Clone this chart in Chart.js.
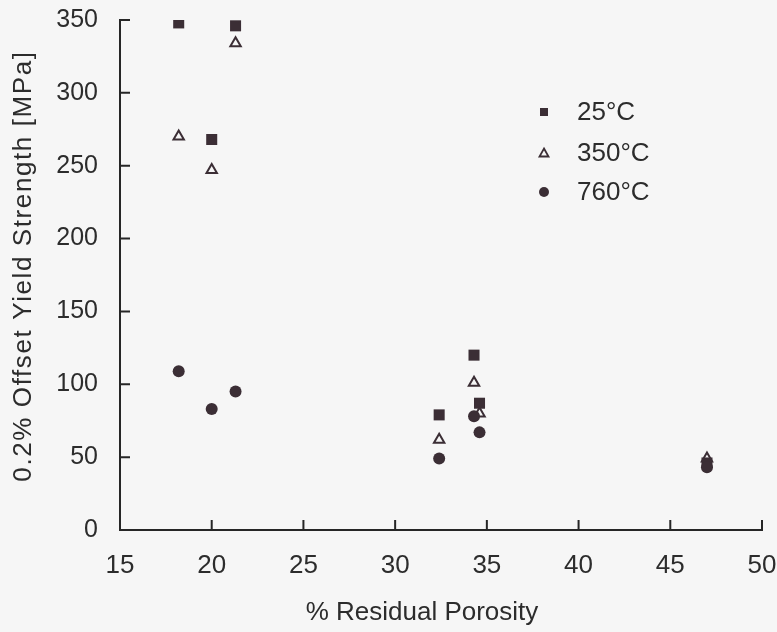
<!DOCTYPE html>
<html>
<head>
<meta charset="utf-8">
<script src="https://cdn.jsdelivr.net/npm/chart.js@4/dist/chart.umd.min.js"></script>
<style>
  body { margin: 0; background: #f6f6f6; }
  #wrap { width: 777px; height: 632px; }
</style>
</head>
<body>
<div id="wrap"><canvas id="c" width="777" height="632"></canvas></div>
<script>
// porosity (%) for each specimen
const porosity = [18.2, 20.0, 21.3, 32.4, 34.3, 34.6, 47.0]

// 0.2% offset yield strength [MPa] at each test temperature
const ys25 = [348, 268, 346, 79, 120, 87, 46]
const ys350 = [270, 247, 334, 62, 101, 80, 49]
const ys760 = [109, 83, 95, 49, 78, 67, 43]

const xTicks = [15, 20, 25, 30, 35, 40, 45, 50]
const yTicks = [0, 50, 100, 150, 200, 250, 300, 350]
const legendLabels = ['25°C', '350°C', '760°C']
const xTitle = '% Residual Porosity'
const yTitle = '0.2% Offset Yield Strength [MPa]'

const ink = '#3b2e35'
const axisColor = '#262626'
const textColor = '#2c2c2c'
const fontFam = '"Liberation Sans", Arial, Helvetica, sans-serif'

function pts(ys) {
    return porosity.map((x, i) => ({ x: x, y: ys[i] }))
}

// inward tick marks, axis titles and legend
const extras = {
    id: 'extras',
    afterDraw(chart) {
        const ctx = chart.ctx
        const xs = chart.scales.x, ysc = chart.scales.y
        const a = chart.chartArea
        ctx.save()
        ctx.strokeStyle = axisColor
        ctx.lineWidth = 2
        ctx.beginPath()
        xTicks.forEach(v => {
            const px = xs.getPixelForValue(v)
            ctx.moveTo(px, a.bottom)
            ctx.lineTo(px, a.bottom - 10)
        })
        yTicks.forEach(v => {
            const py = ysc.getPixelForValue(v)
            ctx.moveTo(a.left, py)
            ctx.lineTo(a.left + 10, py)
        })
        ctx.stroke()

        ctx.fillStyle = textColor
        ctx.font = '26px ' + fontFam

        // x axis title
        ctx.textAlign = 'center'
        ctx.textBaseline = 'alphabetic'
        ctx.fillText(xTitle, 422, 620)

        // y axis title, a bit spaced out
        ctx.save()
        ctx.translate(24, (a.top + a.bottom) / 2 - 9)
        ctx.rotate(-Math.PI / 2)
        ctx.letterSpacing = '1.6px'
        ctx.textBaseline = 'middle'
        ctx.fillText(yTitle, 0, 0)
        ctx.restore()

        // legend
        const lx = 544, tx = 577
        const rows = [112, 153, 192]
        ctx.textAlign = 'left'
        ctx.textBaseline = 'middle'
        legendLabels.forEach((lab, i) => {
            ctx.fillText(lab, tx, rows[i] + 1)
        })
        ctx.fillStyle = ink
        ctx.strokeStyle = ink
        ctx.fillRect(lx - 4, rows[0] - 4, 8, 8)
        ctx.lineWidth = 1.8
        ctx.beginPath()
        ctx.moveTo(lx, rows[1] - 4.5)
        ctx.lineTo(lx + 4.5, rows[1] + 3.5)
        ctx.lineTo(lx - 4.5, rows[1] + 3.5)
        ctx.closePath()
        ctx.stroke()
        ctx.beginPath()
        ctx.arc(lx, rows[2], 5, 0, Math.PI * 2)
        ctx.fill()
        ctx.restore()
    }
}

const config = {
    type: 'scatter',
    data: {
        datasets: [
            {
                label: legendLabels[0],
                data: pts(ys25),
                pointStyle: 'rect',
                pointRadius: 7.8,
                backgroundColor: ink,
                borderColor: ink,
                borderWidth: 0,
                order: 2
            },
            {
                label: legendLabels[1],
                data: pts(ys350),
                pointStyle: 'triangle',
                pointRadius: 6,
                backgroundColor: 'rgba(0,0,0,0)',
                borderColor: ink,
                borderWidth: 2,
                order: 1
            },
            {
                label: legendLabels[2],
                data: pts(ys760),
                pointStyle: 'circle',
                pointRadius: 6,
                backgroundColor: ink,
                borderColor: ink,
                borderWidth: 0,
                order: 0
            }
        ]
    },
    options: {
        responsive: false,
        animation: false,
        layout: { padding: { left: 0, right: 15, top: 20, bottom: 0 } },
        plugins: {
            legend: { display: false },
            tooltip: { enabled: false }
        },
        scales: {
            x: {
                type: 'linear',
                min: 15,
                max: 50,
                afterBuildTicks: (s) => { s.ticks = xTicks.map(v => ({ value: v })) },
                afterFit: (s) => { s.height = 102; s.paddingLeft = 0; s.paddingRight = 0 },
                grid: { display: false, drawTicks: false, tickLength: 0 },
                border: { display: true, width: 2, color: axisColor },
                ticks: {
                    color: textColor,
                    padding: 20,
                    font: { family: fontFam, size: 26 }
                }
            },
            y: {
                type: 'linear',
                min: 0,
                max: 350,
                afterBuildTicks: (s) => { s.ticks = yTicks.map(v => ({ value: v })) },
                afterFit: (s) => { s.width = 120; s.paddingTop = 0; s.paddingBottom = 0 },
                grid: { display: false, drawTicks: false, tickLength: 0 },
                border: { display: true, width: 2, color: axisColor },
                ticks: {
                    color: textColor,
                    padding: 22,
                    font: { family: fontFam, size: 25 }
                }
            }
        }
    },
    plugins: [extras]
}

new Chart(document.getElementById('c'), config)
</script>
</body>
</html>
